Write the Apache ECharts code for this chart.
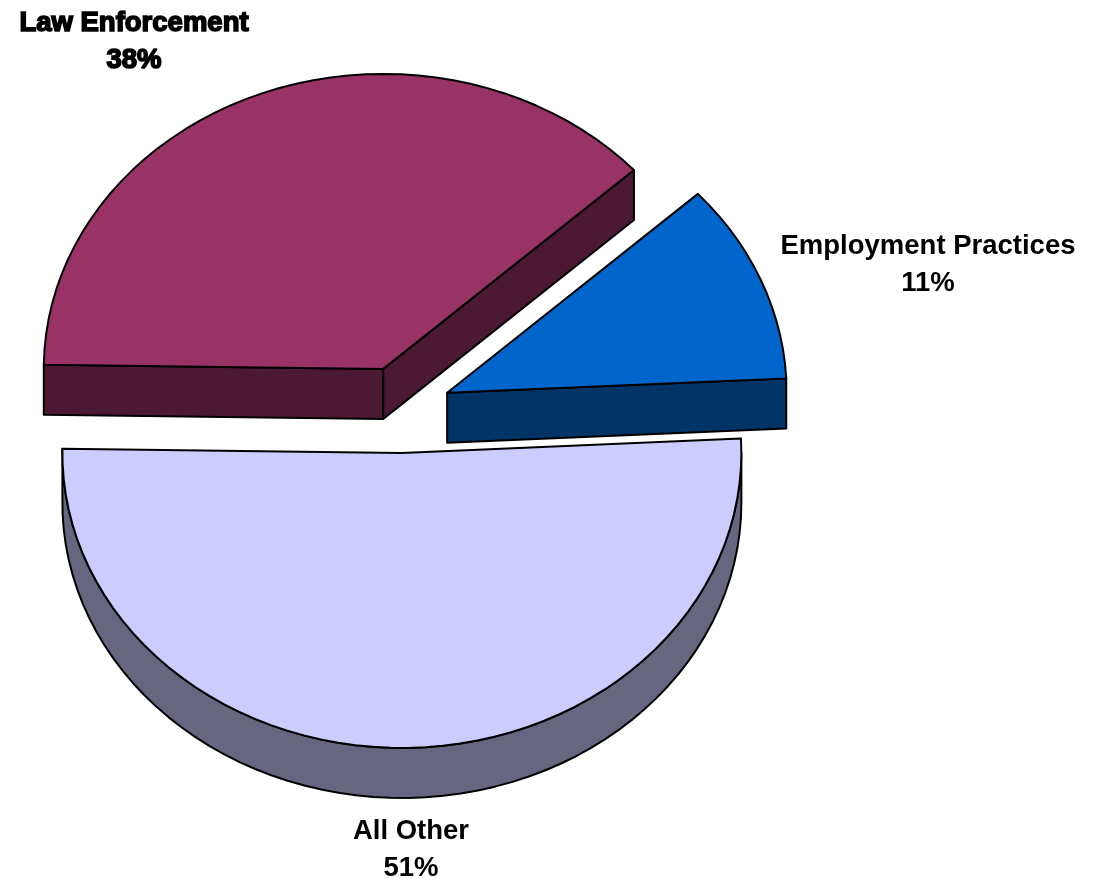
<!DOCTYPE html>
<html>
<head>
<meta charset="utf-8">
<title>Share by category</title>
<script src="https://cdn.jsdelivr.net/npm/echarts@6/dist/echarts.min.js"></script>
<style>
html,body{margin:0;padding:0;background:#fff}
#chart{width:1101px;height:879px}
</style>
</head>
<body>
<div id="chart"></div>
<script>
// Slices, clockwise from the left edge of the pie
const categories = ['Law Enforcement', 'Employment Practices', 'All Other'];
const shares = [38, 11, 51];
const topColors = ['#993366', '#0066CC', '#CCCCFF'];
const sideColors = ['#4C1933', '#003366', '#666680'];

// Tilted-pie geometry
const pie = { cx: 401, cy: 409.5, rx: 339.5, ry: 295, depth: 50, explode: 50, startDeg: 179.2 };
const labelAnchors = [[134, 23], [928, 246], [411, 831]];
const lineGap = 37;
const labelFont = 'bold 27.5px "Liberation Sans", Arial, sans-serif';

const total = shares.reduce((a, b) => a + b, 0);
const squash = pie.ry / pie.rx;
const rad = d => d * Math.PI / 180;

function sliceAngles(index) {
  let start = pie.startDeg;
  for (let i = 0; i < index; i++) start -= shares[i] / total * 360;
  return [start, start - shares[index] / total * 360];
}

function ellipsePoint(ax, ay, deg) {
  return [ax + pie.rx * Math.cos(rad(deg)), ay - pie.ry * Math.sin(rad(deg))];
}

function arcPoints(ax, ay, from, to) {
  const pts = [];
  const steps = Math.max(2, Math.ceil(Math.abs(to - from) / 3));
  for (let s = 0; s <= steps; s++) {
    pts.push(ellipsePoint(ax, ay, from + (to - from) * s / steps));
  }
  return pts;
}

function wall(points, fill) {
  const bottom = points.map(p => [p[0], p[1] + pie.depth]).reverse();
  return {
    type: 'polygon',
    shape: { points: points.concat(bottom) },
    style: { fill: fill, stroke: '#000', lineWidth: 2, lineJoin: 'round' }
  };
}

function renderSlice(params, api) {
  const i = params.dataIndex;
  const [from, to] = sliceAngles(i);
  const mid = rad((from + to) / 2);
  const ax = pie.cx + pie.explode * Math.cos(mid);
  const ay = pie.cy - pie.explode * squash * Math.sin(mid);
  const apex = [ax, ay];
  const rim = arcPoints(ax, ay, from, to);
  const side = sideColors[i];
  const children = [];

  // A cut edge shows its wall only when its outward normal points down the screen
  if (Math.cos(rad(from)) < 0) children.push(wall([apex, rim[0]], side));
  if (Math.cos(rad(to)) > 0) children.push(wall([apex, rim[rim.length - 1]], side));

  // Outer rim is visible only below the horizontal axis of the ellipse
  if (to < 0) children.push(wall(arcPoints(ax, ay, Math.min(from, 0), to), side));

  // Top face
  children.push({
    type: 'polygon',
    shape: { points: [apex].concat(rim) },
    style: { fill: topColors[i], stroke: '#000', lineWidth: 2, lineJoin: 'round' }
  });

  // Name and percentage; the first label is set in a heavier double-struck weight
  const heavy = i === 0;
  [categories[i], api.value(0) + '%'].forEach((text, line) => {
    children.push({
      type: 'text',
      style: {
        text: text,
        x: labelAnchors[i][0],
        y: labelAnchors[i][1] + line * lineGap,
        align: 'center',
        verticalAlign: 'middle',
        font: labelFont,
        fill: '#000',
        stroke: heavy ? '#000' : null,
        lineWidth: heavy ? 1.6 : 0
      }
    });
  });

  return { type: 'group', children: children };
}

const chart = echarts.init(document.getElementById('chart'), null, { renderer: 'canvas' });
chart.setOption({
  backgroundColor: '#fff',
  animation: false,
  series: [{
    type: 'custom',
    coordinateSystem: 'none',
    silent: true,
    clip: false,
    data: shares,
    renderItem: renderSlice
  }]
});
</script>
</body>
</html>
